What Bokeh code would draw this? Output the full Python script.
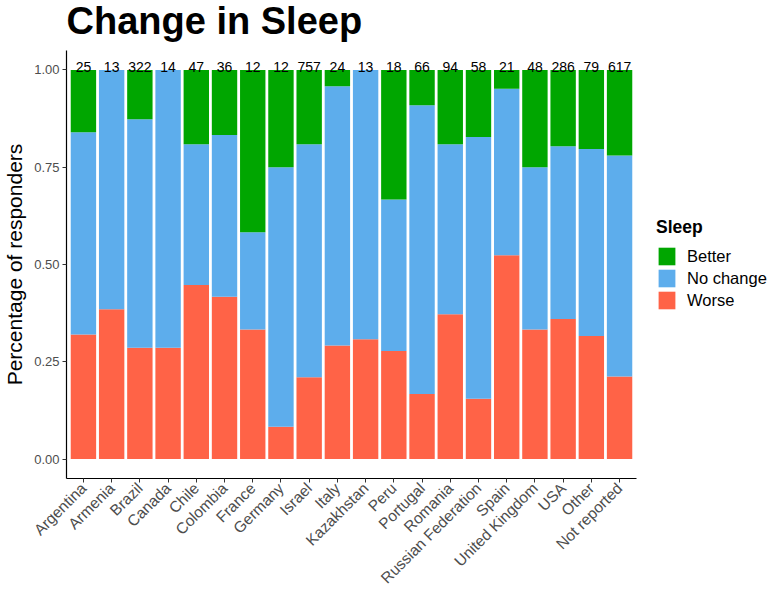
import math
from bokeh.plotting import figure
from bokeh.layouts import row, column
from bokeh.models import ColumnDataSource, FixedTicker, Legend, LegendItem, Label
from bokeh.core.properties import value
from bokeh.embed import file_html
from bokeh.resources import INLINE

countries = ["Argentina", "Armenia", "Brazil", "Canada", "Chile", "Colombia", "France",
             "Germany", "Israel", "Italy", "Kazakhstan", "Peru", "Portugal", "Romania",
             "Russian Federation", "Spain", "United Kingdom", "USA", "Other", "Not reported"]
counts = [25, 13, 322, 14, 47, 36, 12, 12, 757, 24, 13, 18, 66, 94, 58, 21, 48, 286, 79, 617]
worse = [0.320, 0.385, 0.286, 0.286, 0.447, 0.417, 0.333, 0.083, 0.210, 0.292, 0.308,
         0.278, 0.167, 0.372, 0.155, 0.524, 0.333, 0.360, 0.316, 0.212]
no_change = [0.520, 0.615, 0.587, 0.714, 0.362, 0.416, 0.250, 0.667, 0.599, 0.666, 0.692,
             0.389, 0.742, 0.437, 0.673, 0.428, 0.417, 0.444, 0.481, 0.568]
better = [0.160, 0.000, 0.127, 0.000, 0.191, 0.167, 0.417, 0.250, 0.191, 0.042, 0.000,
          0.333, 0.091, 0.191, 0.172, 0.048, 0.250, 0.196, 0.203, 0.220]
y_ticks = [0.0, 0.25, 0.5, 0.75, 1.0]
y_tick_labels = ["0.00", "0.25", "0.50", "0.75", "1.00"]
series = ["Worse", "NoChange", "Better"]
series_labels = ["Worse", "No change", "Better"]
series_colors = ["#FF6347", "#5DADEC", "#00A600"]

xs = list(range(1, len(countries) + 1))
source = ColumnDataSource(dict(x=xs, Worse=worse, NoChange=no_change, Better=better,
                               count=[str(c) for c in counts],
                               ytop=[w + n + b for w, n, b in zip(worse, no_change, better)]))

TH = 45
H = 550
PW = 644
QW = 129

# title strip
t = figure(width=PW + QW, height=TH, output_backend="svg", toolbar_location=None,
           x_axis_location=None, y_axis_location=None, min_border=0, title=None)
t.xgrid.visible = False
t.ygrid.visible = False
t.outline_line_color = None
t.add_layout(Label(x=66, y=25, x_units="screen", y_units="screen", text="Change in Sleep",
                   text_font="Liberation Sans", text_font_size="38px", text_font_style="bold",
                   text_color="black", text_baseline="alphabetic"))

p = figure(width=PW, height=H, output_backend="svg", toolbar_location=None, title=None,
           x_range=(0.4, 20.6), y_range=(-0.05, 1.05),
           min_border_left=66, min_border_right=8, min_border_top=5, min_border_bottom=115)

renderers = p.vbar_stack(series, x="x", width=0.9, source=source,
                         color=series_colors, line_color=None)

p.text(x="x", y="ytop", text="count", source=source, text_align="center",
       text_baseline="alphabetic", y_offset=-3, text_font_size="14px",
       text_font=value("Liberation Sans"), text_color="black")

p.xgrid.visible = False
p.ygrid.visible = False
p.outline_line_color = None

p.xaxis.ticker = FixedTicker(ticks=xs)
p.xaxis.major_label_overrides = {x: c for x, c in zip(xs, countries)}
p.xaxis.major_label_orientation = math.pi / 4
p.yaxis.ticker = FixedTicker(ticks=y_ticks)
p.yaxis.major_label_overrides = {tk: l for tk, l in zip(y_ticks, y_tick_labels)}
p.yaxis.axis_label = "Percentage of responders"

for ax in [p.xaxis[0], p.yaxis[0]]:
    ax.axis_line_color = "black"
    ax.axis_line_width = 1.2
    ax.major_tick_line_color = "#333333"
    ax.major_tick_in = 0
    ax.major_tick_out = 4
    ax.minor_tick_line_color = None
    ax.major_label_text_font = "Liberation Sans"
    ax.major_label_text_color = "#4D4D4D"
    ax.major_label_standoff = 3

p.xaxis.major_label_text_font_size = "15.5px"
p.yaxis.major_label_text_font_size = "13px"
p.yaxis.axis_label_text_font = "Liberation Sans"
p.yaxis.axis_label_text_font_size = "21px"
p.yaxis.axis_label_text_font_style = "normal"
p.yaxis.axis_label_text_color = "black"
p.yaxis.axis_label_standoff = 5

# legend panel
q = figure(width=QW, height=H, output_backend="svg", toolbar_location=None,
           x_axis_location=None, y_axis_location=None, min_border=0, title=None)
q.xgrid.visible = False
q.ygrid.visible = False
q.outline_line_color = None
lr = q.vbar_stack(series, x="x", width=0.9, source=source, color=series_colors, line_color=None)
for r in lr:
    r.visible = False

legend = Legend(items=[LegendItem(label=series_labels[i], renderers=[lr[i]]) for i in (2, 1, 0)],
                title="Sleep", location=(12, 167))
legend.title_text_font = "Liberation Sans"
legend.title_text_font_style = "bold"
legend.title_text_font_size = "17.5px"
legend.title_text_color = "black"
legend.title_standoff = 7
legend.label_text_font = "Liberation Sans"
legend.label_text_font_size = "16.5px"
legend.label_text_color = "black"
legend.label_standoff = 10
legend.glyph_width = 21
legend.glyph_height = 22
legend.spacing = 0
legend.padding = 4
legend.margin = 0
legend.border_line_color = None
legend.background_fill_alpha = 0
legend.inactive_fill_alpha = 0
q.add_layout(legend, "center")

layout = column(t, row(p, q))
open("out.html", "w").write(file_html(layout, INLINE))
